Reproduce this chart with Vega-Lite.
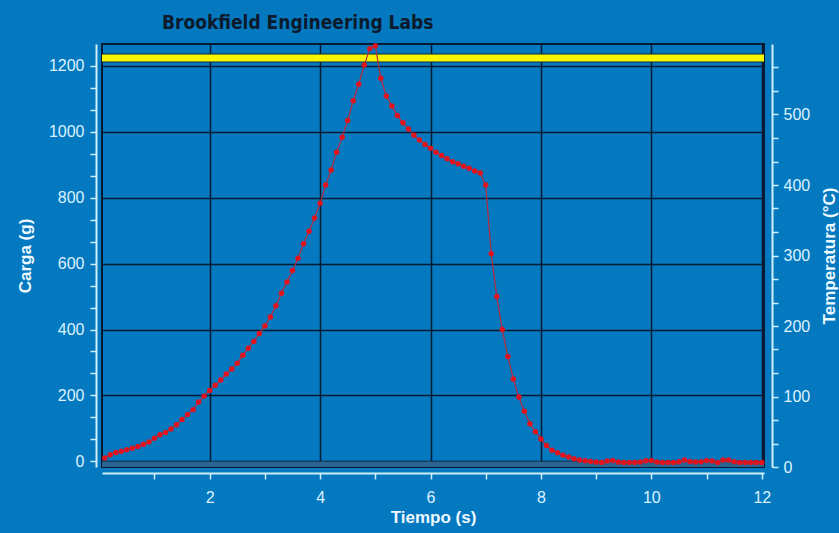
{
  "$schema": "https://vega.github.io/schema/vega-lite/v6.json",
  "autosize": {"type": "none"},
  "width": 662,
  "height": 423,
  "padding": {"left": 102, "top": 44, "right": 75, "bottom": 66},
  "background": "#0479BF",
  "title": {
    "text": "Brookfield Engineering Labs",
    "anchor": "start",
    "frame": "group",
    "dx": 60,
    "offset": 10,
    "font": "Liberation Sans Narrow, DejaVu Sans Condensed, sans-serif",
    "fontSize": 19,
    "fontWeight": "bold",
    "color": "#0c1a2c"
  },
  "config": {
    "view": {"stroke": "#061a33", "strokeWidth": 2},
    "axis": {
      "domainColor": "#cdeefa",
      "domainWidth": 2,
      "tickColor": "#cdeefa",
      "tickWidth": 1.5,
      "tickSize": 6,
      "labelColor": "#dcf2ff",
      "labelFont": "Liberation Sans",
      "labelFontSize": 16,
      "labelOverlap": false,
      "labelFlush": false,
      "titleColor": "#eef8ff",
      "titleFont": "Liberation Sans",
      "titleFontSize": 17,
      "titleFontWeight": "bold",
      "gridColor": "#061a33",
      "gridWidth": 1.5
    }
  },
  "datasets": {
    "carga": [
      {"t": 0.1, "carga": 10}, {"t": 0.2, "carga": 20}, {"t": 0.3, "carga": 27}, {"t": 0.4, "carga": 31},
      {"t": 0.5, "carga": 35}, {"t": 0.6, "carga": 40}, {"t": 0.7, "carga": 45}, {"t": 0.8, "carga": 52},
      {"t": 0.9, "carga": 59}, {"t": 1.0, "carga": 70}, {"t": 1.1, "carga": 81}, {"t": 1.2, "carga": 88},
      {"t": 1.3, "carga": 98}, {"t": 1.4, "carga": 111}, {"t": 1.5, "carga": 127}, {"t": 1.6, "carga": 142},
      {"t": 1.7, "carga": 157}, {"t": 1.8, "carga": 180}, {"t": 1.9, "carga": 198}, {"t": 2.0, "carga": 215},
      {"t": 2.1, "carga": 231}, {"t": 2.2, "carga": 247}, {"t": 2.3, "carga": 265}, {"t": 2.4, "carga": 280},
      {"t": 2.5, "carga": 298}, {"t": 2.6, "carga": 322}, {"t": 2.7, "carga": 343}, {"t": 2.8, "carga": 364},
      {"t": 2.9, "carga": 388}, {"t": 3.0, "carga": 411}, {"t": 3.1, "carga": 438}, {"t": 3.2, "carga": 472},
      {"t": 3.3, "carga": 510}, {"t": 3.4, "carga": 544}, {"t": 3.5, "carga": 579}, {"t": 3.6, "carga": 616},
      {"t": 3.7, "carga": 660}, {"t": 3.8, "carga": 698}, {"t": 3.9, "carga": 738}, {"t": 4.0, "carga": 783},
      {"t": 4.1, "carga": 838}, {"t": 4.2, "carga": 884}, {"t": 4.3, "carga": 938}, {"t": 4.4, "carga": 983},
      {"t": 4.5, "carga": 1034}, {"t": 4.6, "carga": 1094}, {"t": 4.7, "carga": 1144}, {"t": 4.8, "carga": 1202},
      {"t": 4.9, "carga": 1252}, {"t": 5.0, "carga": 1260}, {"t": 5.1, "carga": 1162}, {"t": 5.2, "carga": 1108},
      {"t": 5.3, "carga": 1078}, {"t": 5.4, "carga": 1049}, {"t": 5.5, "carga": 1027}, {"t": 5.6, "carga": 1008},
      {"t": 5.7, "carga": 989}, {"t": 5.8, "carga": 975}, {"t": 5.9, "carga": 961}, {"t": 6.0, "carga": 950},
      {"t": 6.1, "carga": 938}, {"t": 6.2, "carga": 928}, {"t": 6.3, "carga": 918}, {"t": 6.4, "carga": 909},
      {"t": 6.5, "carga": 903}, {"t": 6.6, "carga": 895}, {"t": 6.7, "carga": 889}, {"t": 6.8, "carga": 881},
      {"t": 6.9, "carga": 875}, {"t": 7.0, "carga": 838}, {"t": 7.1, "carga": 630}, {"t": 7.2, "carga": 500},
      {"t": 7.3, "carga": 400}, {"t": 7.4, "carga": 318}, {"t": 7.5, "carga": 250}, {"t": 7.6, "carga": 195},
      {"t": 7.7, "carga": 152}, {"t": 7.8, "carga": 114}, {"t": 7.9, "carga": 90}, {"t": 8.0, "carga": 68},
      {"t": 8.1, "carga": 48}, {"t": 8.2, "carga": 34}, {"t": 8.3, "carga": 26}, {"t": 8.4, "carga": 19},
      {"t": 8.5, "carga": 13}, {"t": 8.6, "carga": 8}, {"t": 8.7, "carga": 4}, {"t": 8.8, "carga": 2},
      {"t": 8.9, "carga": 0}, {"t": 9.0, "carga": -2}, {"t": 9.1, "carga": -3}, {"t": 9.2, "carga": 1},
      {"t": 9.3, "carga": 3}, {"t": 9.4, "carga": -2}, {"t": 9.5, "carga": -3}, {"t": 9.6, "carga": -3},
      {"t": 9.7, "carga": -3}, {"t": 9.8, "carga": -2}, {"t": 9.9, "carga": 2}, {"t": 10.0, "carga": 3},
      {"t": 10.1, "carga": -2}, {"t": 10.2, "carga": -3}, {"t": 10.3, "carga": -3}, {"t": 10.4, "carga": -3},
      {"t": 10.5, "carga": -1}, {"t": 10.6, "carga": 4}, {"t": 10.7, "carga": 0}, {"t": 10.8, "carga": -2},
      {"t": 10.9, "carga": -1}, {"t": 11.0, "carga": 3}, {"t": 11.1, "carga": 1}, {"t": 11.2, "carga": -3},
      {"t": 11.3, "carga": 4}, {"t": 11.4, "carga": 4}, {"t": 11.5, "carga": -1}, {"t": 11.6, "carga": -3},
      {"t": 11.7, "carga": -3}, {"t": 11.8, "carga": -3}, {"t": 11.9, "carga": -3}, {"t": 12.0, "carga": -3}
    ],
    "limite": [{"temp": 580}]
  },
  "layer": [
    {
      "data": {"name": "limite"},
      "layer": [
        {
          "mark": {"type": "rule", "color": "#0a2a40", "strokeWidth": 9},
          "encoding": {
            "y": {
              "field": "temp",
              "type": "quantitative",
              "scale": {"domain": [0, 600], "nice": false, "zero": false},
              "axis": {
                "orient": "right",
                "title": "Temperatura (°C)",
                "titleAngle": -90,
                "values": [0, 33.333, 66.667, 100, 133.333, 166.667, 200, 233.333, 266.667, 300, 333.333, 366.667, 400, 433.333, 466.667, 500, 533.333, 566.667],
                "tickCount": 60,
                "labelExpr": "abs(datum.value - 100 * round(datum.value / 100)) < 1 ? format(datum.value, 'd') : ''",
                "labelOverlap": false,
                "offset": 8,
                "grid": false,
                "labelPadding": 5,
                "titlePadding": 29
              }
            }
          }
        },
        {
          "mark": {"type": "rule", "color": "#f5f500", "strokeWidth": 7},
          "encoding": {"y": {"field": "temp", "type": "quantitative"}}
        }
      ]
    },
    {
      "data": {"name": "carga"},
      "layer": [
        {
          "data": {"values": [{}]},
          "mark": {"type": "rect", "color": "#2a6590"},
          "encoding": {
            "y": {"datum": -17, "type": "quantitative"},
            "y2": {"datum": 0}
          }
        },
        {
          "mark": {"type": "line", "color": "#b8283c", "strokeWidth": 1.2},
          "encoding": {
            "x": {
              "field": "t",
              "type": "quantitative",
              "scale": {"domain": [0.05, 12.04], "nice": false, "zero": false},
              "axis": {
                "title": "Tiempo (s)",
                "values": [1, 2, 3, 4, 5, 6, 7, 8, 9, 10, 11, 12],
                "tickCount": 40,
                "labelExpr": "abs(datum.value - 2 * round(datum.value / 2)) < 0.01 ? format(datum.value, 'd') : ''",
                "labelOverlap": false,
                "offset": 6,
                "grid": true,
                "gridOpacity": {"condition": {"test": "abs(datum.value - 2 * round(datum.value / 2)) > 0.01", "value": 0}, "value": 1},
                "labelPadding": 10,
                "titlePadding": 4
              }
            },
            "y": {
              "field": "carga",
              "type": "quantitative",
              "scale": {"domain": [-17, 1266], "nice": false, "zero": false},
              "axis": {
                "orient": "left",
                "title": "Carga (g)",
                "values": [0, 66.667, 133.333, 200, 266.667, 333.333, 400, 466.667, 533.333, 600, 666.667, 733.333, 800, 866.667, 933.333, 1000, 1066.667, 1133.333, 1200],
                "tickCount": 60,
                "labelExpr": "abs(datum.value - 200 * round(datum.value / 200)) < 1 ? format(datum.value, 'd') : ''",
                "labelOverlap": false,
                "offset": 6,
                "grid": true,
                "gridOpacity": {"condition": {"test": "abs(datum.value - 200 * round(datum.value / 200)) > 1", "value": 0}, "value": 1},
                "labelPadding": 6,
                "titlePadding": 14
              }
            }
          }
        },
        {
          "mark": {"type": "circle", "color": "#e0141e", "size": 30, "opacity": 1},
          "encoding": {
            "x": {"field": "t", "type": "quantitative"},
            "y": {"field": "carga", "type": "quantitative"}
          }
        }
      ]
    }
  ],
  "resolve": {"scale": {"y": "independent"}}
}
